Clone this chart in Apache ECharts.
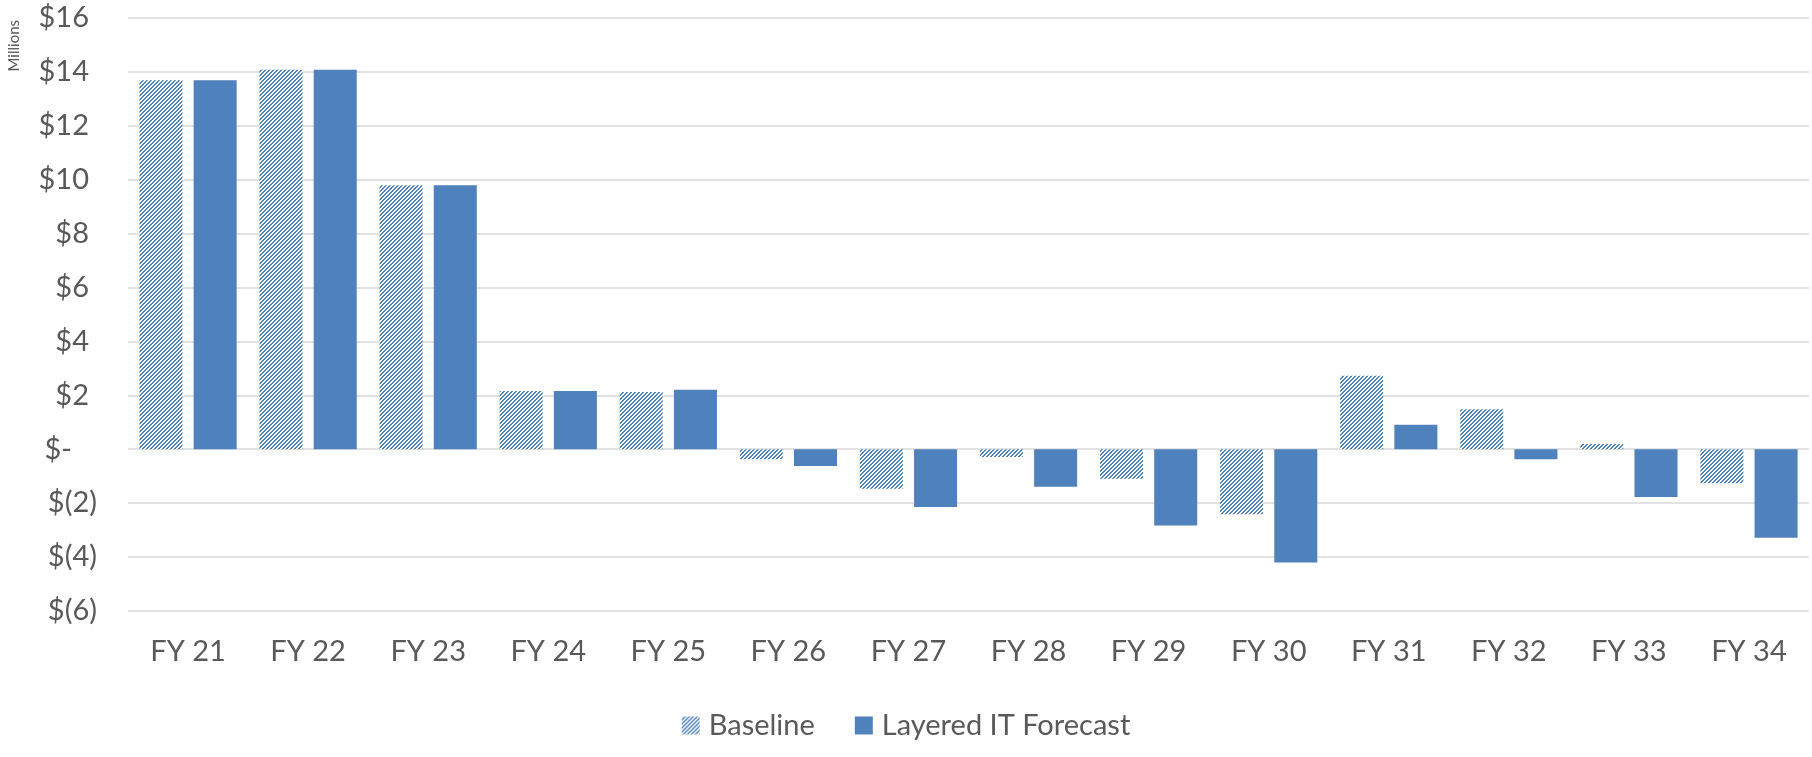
<!DOCTYPE html>
<html>
<head>
<meta charset="utf-8">
<script src="https://cdn.jsdelivr.net/npm/echarts@6/dist/echarts.min.js"></script>
<style>
html,body{margin:0;padding:0;background:#fff;}
#chart{width:1812px;height:757px;}
</style>
</head>
<body>
<div id="chart"></div>
<script>
const categories = ['FY 21','FY 22','FY 23','FY 24','FY 25','FY 26','FY 27','FY 28','FY 29','FY 30','FY 31','FY 32','FY 33','FY 34'];
const baseline = [13.68, 14.07, 9.79, 2.16, 2.12, -0.37, -1.47, -0.29, -1.10, -2.41, 2.72, 1.48, 0.19, -1.26];
const layered = [13.68, 14.07, 9.79, 2.16, 2.20, -0.62, -2.14, -1.39, -2.83, -4.20, 0.91, -0.37, -1.77, -3.28];
const seriesNames = ['Baseline', 'Layered IT Forecast'];
const yTicks = {min: -6, max: 16, interval: 2};

const BLUE = '#4F81BD';
const textColor = '#595959';
const fontFam = 'Lato, "Open Sans", sans-serif';

// hatch pattern (upward diagonal stripes)
const pc = document.createElement('canvas');
pc.width = 4; pc.height = 4;
const pctx = pc.getContext('2d');
pctx.fillStyle = '#ffffff';
pctx.fillRect(0,0,4,4);
pctx.fillStyle = BLUE;
for (let x = 0; x < 4; x++) {
  for (let y = 0; y < 4; y++) {
    const m = (x + y) % 4;
    if (m === 2 || m === 3) pctx.fillRect(x, y, 1, 1);
  }
}
const hatch = {image: pc, repeat: 'repeat'};

function fmt(v) {
  if (v > 0) return '{p|$' + v + '}';
  if (v < 0) return '{n|$(' + (-v) + ')}';
  return '{z|$-}';
}

const chart = echarts.init(document.getElementById('chart'), null, {renderer: 'canvas'});
chart.setOption({
  animation: false,
  grid: {left: 128, right: 3, top: 17.7, bottom: 146, containLabel: false},
  legend: {
    bottom: 12,
    left: 'center',
    itemWidth: 18,
    itemHeight: 18,
    itemGap: 40,
    textStyle: {color: textColor, fontSize: 29, fontFamily: fontFam, padding: [0,0,0,4]},
    data: [
      {name: seriesNames[0], icon: 'rect'},
      {name: seriesNames[1], icon: 'rect'}
    ]
  },
  graphic: [{
    type: 'text',
    left: 7,
    top: 20,
    rotation: Math.PI / 2,
    style: {text: 'Millions', fill: textColor, font: '15px ' + fontFam}
  }],
  xAxis: {
    type: 'category',
    data: categories,
    axisLine: {show: false},
    axisTick: {show: false},
    axisLabel: {color: textColor, fontSize: 29, fontFamily: fontFam, margin: 26}
  },
  yAxis: {
    type: 'value',
    min: yTicks.min,
    max: yTicks.max,
    interval: yTicks.interval,
    axisLine: {show: false},
    axisTick: {show: false},
    splitLine: {lineStyle: {color: '#d9d9d9', width: 1.5}},
    axisLabel: {
      margin: 31,
      formatter: fmt,
      rich: {
        p: {color: textColor, fontSize: 29, fontFamily: fontFam, padding: [0, 8, 0, 0]},
        n: {color: textColor, fontSize: 29, fontFamily: fontFam},
        z: {color: textColor, fontSize: 29, fontFamily: fontFam, padding: [0, 25, 0, 0]}
      }
    }
  },
  series: [
    {
      name: seriesNames[0],
      type: 'bar',
      data: baseline,
      barGap: '26%',
      barCategoryGap: '19%',
      itemStyle: {color: hatch}
    },
    {
      name: seriesNames[1],
      type: 'bar',
      data: layered,
      barGap: '26%',
      barCategoryGap: '19%',
      itemStyle: {color: BLUE}
    }
  ]
});
</script>
</body>
</html>
